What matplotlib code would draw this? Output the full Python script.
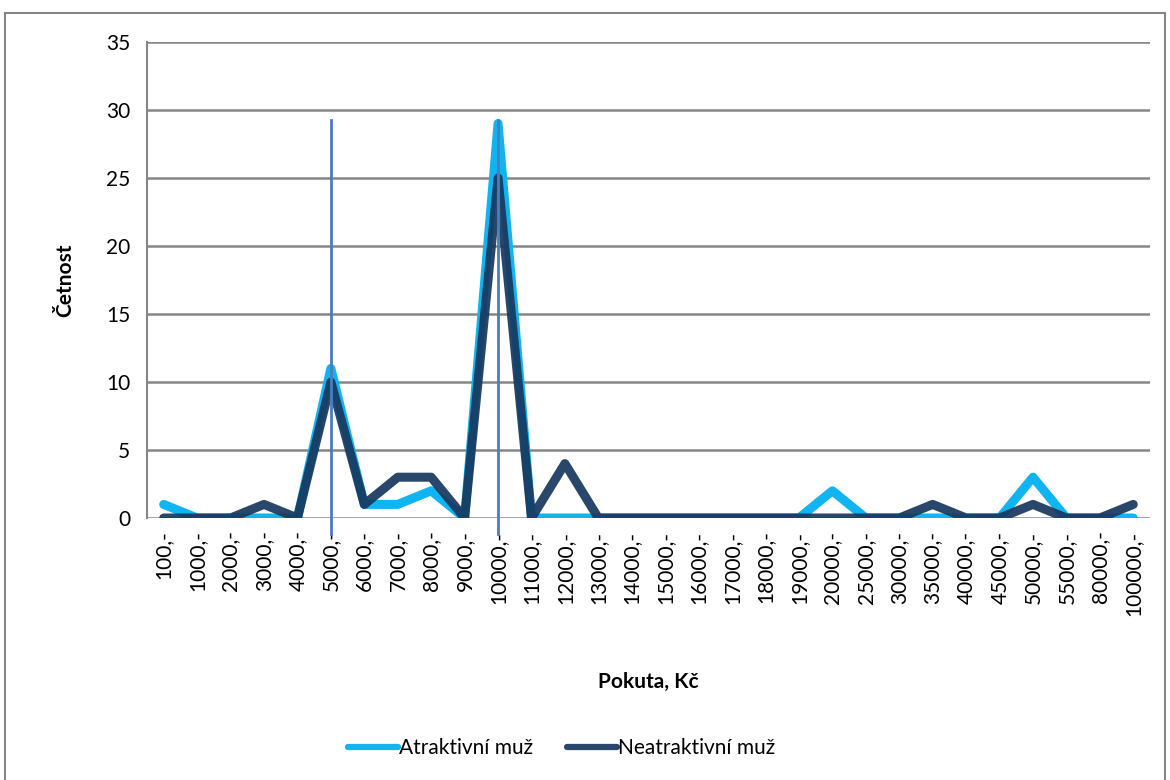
import matplotlib.pyplot as plt
from matplotlib.patches import Rectangle

plt.rcParams['font.family'] = ['Lato', 'DejaVu Sans']

categories = ['100', '1000', '2000', '3000', '4000', '5000', '6000', '7000', '8000', '9000',
              '10000', '11000', '12000', '13000', '14000', '15000', '16000', '17000', '18000',
              '19000', '20000', '25000', '30000', '35000', '40000', '45000', '50000', '55000',
              '80000', '100000']
tick_labels = [c + ',-' for c in categories]

atraktivni = [1, 0, 0, 0, 0, 11, 1, 1, 2, 0,
              29, 0, 0, 0, 0, 0, 0, 0, 0,
              0, 2, 0, 0, 0, 0, 0, 3, 0,
              0, 0]
neatraktivni = [0, 0, 0, 1, 0, 10, 1, 3, 3, 0,
                25, 0, 4, 0, 0, 0, 0, 0, 0,
                0, 0, 0, 0, 1, 0, 0, 1, 0,
                0, 1]

# marker lines at 5000 and 10000
marker_idx = [5, 10]

x = list(range(len(categories)))

fig = plt.figure(figsize=(11.7, 7.8), dpi=100)
ax = fig.add_axes([147 / 1170, 1 - 518 / 780, (1150 - 147) / 1170, (518 - 42) / 780])

ax.plot(x, atraktivni, color='#0FB4F0', lw=6.5, solid_capstyle='round',
        solid_joinstyle='round', label='Atraktivní muž', zorder=3)
ax.plot(x, neatraktivni, color='#17375E', lw=6.5, alpha=0.92, solid_capstyle='round',
        solid_joinstyle='round', label='Neatraktivní muž', zorder=4)

for m in marker_idx:
    ax.plot([m, m], [-1.2, 29.3], color='#4A7EBB', lw=2, clip_on=False, zorder=5)

ax.set_xlim(-0.5, len(categories) - 0.5)
ax.set_ylim(0, 35)
ax.set_yticks(range(0, 36, 5))
ax.set_xticks(x)
ax.set_xticklabels(tick_labels, rotation=90, fontsize=15)
ax.tick_params(axis='y', labelsize=15, length=0, pad=12)
ax.tick_params(axis='x', length=0, pad=9)
ax.grid(axis='y', color='#868686', lw=1.8)
ax.set_axisbelow(True)
for s in ['top', 'right', 'bottom']:
    ax.spines[s].set_visible(False)
ax.spines['left'].set_color('#868686')
ax.spines['left'].set_linewidth(1.5)

ax.set_ylabel('Četnost', fontsize=15, fontweight='bold', labelpad=22)
fig.text((147 + 1150) / 2 / 1170, 1 - 682 / 780, 'Pokuta, Kč', fontsize=15,
         fontweight='bold', ha='center', va='center')

leg = fig.legend(loc='center', bbox_to_anchor=(0.48, 1 - 748 / 780), ncol=2,
                 frameon=False, fontsize=15, handlelength=2.4, handletextpad=0.05,
                 columnspacing=1.6)
for line in leg.get_lines():
    line.set_linewidth(4.5)
    line.set_solid_capstyle('round')

fig.patches.append(Rectangle((5 / 1170, -0.01), 1160 / 1170, 1 - 13 / 780 + 0.01,
                             transform=fig.transFigure, fill=False,
                             edgecolor='#868686', lw=1.5))

fig.savefig('out.png', dpi=100)
